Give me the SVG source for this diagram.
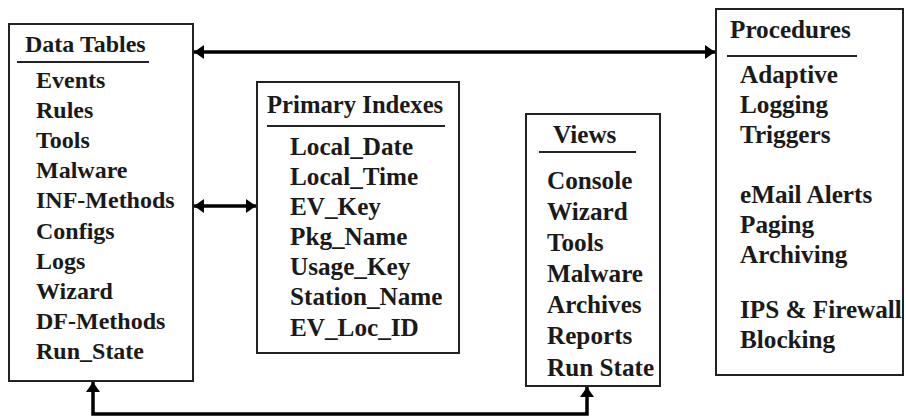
<svg xmlns="http://www.w3.org/2000/svg" width="906" height="418" viewBox="0 0 906 418">
  <style>
    .box { fill: #ffffff; stroke: #222222; stroke-width: 2; }
    .t { font-family: "Liberation Serif", "Times New Roman", serif; font-weight: bold; font-size: 24px; fill: #1a1a1a; }
    .m { font-size: 25.2px; }
    .l { font-size: 25.2px; }
    .ul { stroke: #222222; stroke-width: 2; }
    .conn { fill: none; stroke: #000000; stroke-width: 3.5; }
  </style>
  <defs>
    <marker id="ah" viewBox="0 0 10 14" refX="10" refY="7" markerWidth="10" markerHeight="14" markerUnits="userSpaceOnUse" orient="auto-start-reverse">
      <path d="M0,0 L10,7 L0,14 Z" fill="#000000"/>
    </marker>
  </defs>
  <rect width="906" height="418" fill="#ffffff"/>

  <g id="data-tables">
    <rect class="box" x="9" y="24" width="184" height="357"/>
    <text class="t" x="25" y="52">Data Tables</text>
    <line class="ul" x1="17" y1="62" x2="149" y2="62"/>
    <text class="t" x="36" y="88">Events</text>
    <text class="t" x="36" y="118">Rules</text>
    <text class="t" x="36" y="148">Tools</text>
    <text class="t" x="36" y="178">Malware</text>
    <text class="t" x="36" y="208">INF-Methods</text>
    <text class="t" x="36" y="239">Configs</text>
    <text class="t" x="36" y="269">Logs</text>
    <text class="t" x="36" y="299">Wizard</text>
    <text class="t" x="36" y="329">DF-Methods</text>
    <text class="t" x="36" y="359">Run_State</text>
  </g>

  <g id="primary-indexes">
    <rect class="box" x="257" y="82" width="202" height="271"/>
    <text class="t" x="267" y="113" style="font-size:24.7px">Primary Indexes</text>
    <line class="ul" x1="267" y1="126" x2="445" y2="126"/>
    <text class="t m" x="290" y="155">Local_Date</text>
    <text class="t m" x="290" y="185">Local_Time</text>
    <text class="t m" x="290" y="215">EV_Key</text>
    <text class="t m" x="290" y="245">Pkg_Name</text>
    <text class="t m" x="290" y="275">Usage_Key</text>
    <text class="t m" x="290" y="305">Station_Name</text>
    <text class="t m" x="290" y="336">EV_Loc_ID</text>
  </g>

  <g id="views">
    <rect class="box" x="526" y="114" width="134" height="272"/>
    <text class="t l" x="553" y="143">Views</text>
    <line class="ul" x1="539" y1="152" x2="636" y2="152"/>
    <text class="t l" x="547" y="189">Console</text>
    <text class="t l" x="547" y="220">Wizard</text>
    <text class="t l" x="547" y="251">Tools</text>
    <text class="t l" x="547" y="282">Malware</text>
    <text class="t l" x="547" y="313">Archives</text>
    <text class="t l" x="547" y="344">Reports</text>
    <text class="t l" x="547" y="376">Run State</text>
  </g>

  <g id="procedures">
    <rect class="box" x="716" y="9" width="187" height="366"/>
    <text class="t l" x="730" y="38">Procedures</text>
    <line class="ul" x1="727" y1="56" x2="857" y2="56"/>
    <text class="t l" x="740" y="83">Adaptive</text>
    <text class="t l" x="740" y="113">Logging</text>
    <text class="t l" x="740" y="143">Triggers</text>
    <text class="t l" x="740" y="203">eMail Alerts</text>
    <text class="t l" x="740" y="233">Paging</text>
    <text class="t l" x="740" y="263">Archiving</text>
    <text class="t l" x="740" y="318">IPS &amp; Firewall</text>
    <text class="t l" x="740" y="348">Blocking</text>
  </g>

  <g id="connectors">
    <line class="conn" x1="194" y1="52" x2="715" y2="52" marker-start="url(#ah)" marker-end="url(#ah)"/>
    <line class="conn" x1="194" y1="206" x2="256" y2="206" marker-start="url(#ah)" marker-end="url(#ah)"/>
    <polyline class="conn" points="93,382 93,414 587,414 587,387" marker-start="url(#ah)" marker-end="url(#ah)"/>
  </g>
</svg>
